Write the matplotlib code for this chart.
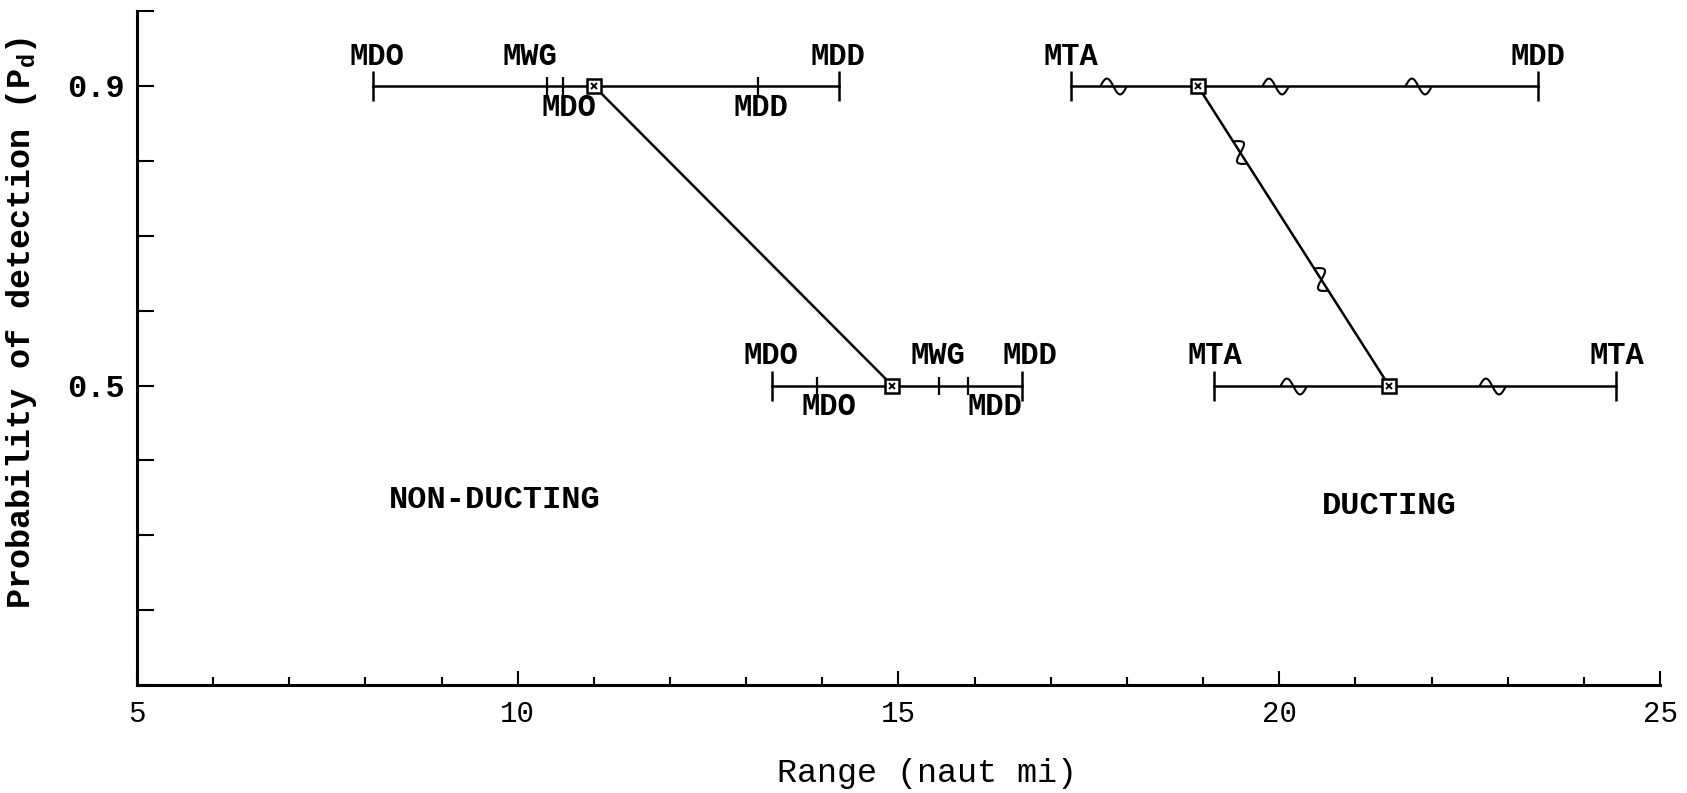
import numpy as np
import matplotlib
matplotlib.use("Agg")
import matplotlib.pyplot as plt
from matplotlib.path import Path
from matplotlib.markers import MarkerStyle
from matplotlib.transforms import Affine2D

plt.rcParams['font.family'] = ['Liberation Mono', 'DejaVu Sans Mono']
plt.rcParams['mathtext.fontset'] = 'custom'
plt.rcParams['mathtext.rm'] = 'Liberation Mono:bold'
plt.rcParams['mathtext.it'] = 'Liberation Mono:bold'

# range bars: (Pd level, left end, right end)
nonduct_bars = [(0.9, 8.1, 14.22), (0.5, 13.34, 16.62)]
duct_bars = [(0.9, 17.26, 23.40), (0.5, 19.14, 24.42)]

# intermediate ticks on the non-ducting bars
nonduct_ticks_09 = [10.38, 10.6, 13.16]
nonduct_ticks_05 = [13.93, 15.53, 15.91]

# median ranges (square markers) joined by a line
nonduct_pd = [0.9, 0.5]
nonduct_range = [11.0, 14.92]
duct_pd = [0.9, 0.5]
duct_range = [18.93, 21.44]

# wiggle positions on ducting bars and on the ducting curve
duct_wiggle_09 = [17.82, 19.95, 21.82]
duct_wiggle_05 = [20.18, 22.79]
duct_curve_wiggle_x = [19.48, 20.55]

# labels: (text, x, Pd, above?)
bar_labels = [
    ("MDO", 8.15, 0.9, True), ("MWG", 10.16, 0.9, True), ("MDD", 14.20, 0.9, True),
    ("MDO", 10.67, 0.9, False), ("MDD", 13.19, 0.9, False),
    ("MDO", 13.32, 0.5, True), ("MWG", 15.52, 0.5, True), ("MDD", 16.73, 0.5, True),
    ("MDO", 14.08, 0.5, False), ("MDD", 16.27, 0.5, False),
    ("MTA", 17.26, 0.9, True), ("MDD", 23.40, 0.9, True),
    ("MTA", 19.16, 0.5, True), ("MTA", 24.44, 0.5, True),
]

x_major = [5, 10, 15, 20, 25]
x_minor = list(range(5, 26))
y_ticks = [0.1, 0.2, 0.3, 0.4, 0.5, 0.6, 0.7, 0.8, 0.9, 1.0]
y_ticklabels = ["", "", "", "", "0.5", "", "", "", "0.9", ""]

fig = plt.figure(figsize=(16.87, 7.93), dpi=100)
ax = fig.add_axes([0.0812, 0.136, 0.9028, 0.85])
ax.set_xlim(5, 25)
ax.set_ylim(0.1, 1.0)

lw = 1.8
k = 'black'

# small sine-shaped wiggle used as a marker
t = np.linspace(-1, 1, 40)
wiggle = Path(np.column_stack([t, 0.6 * np.sin(np.pi * (t + 1))]))

for level, x0, x1 in nonduct_bars + duct_bars:
    ax.plot([x0, x1], [level, level], color=k, lw=lw)
    ax.plot([x0, x1], [level, level], ls='none', marker='|', ms=22,
            mew=lw, color=k)

ax.plot(nonduct_ticks_09, [0.9] * len(nonduct_ticks_09), ls='none',
        marker='|', ms=13, mew=1.6, color=k)
ax.plot(nonduct_ticks_05, [0.5] * len(nonduct_ticks_05), ls='none',
        marker='|', ms=13, mew=1.6, color=k)

ax.plot(duct_wiggle_09, [0.9] * len(duct_wiggle_09), ls='none',
        marker=MarkerStyle(wiggle), ms=19, mew=1.5, mfc='none', mec=k)
ax.plot(duct_wiggle_05, [0.5] * len(duct_wiggle_05), ls='none',
        marker=MarkerStyle(wiggle), ms=19, mew=1.5, mfc='none', mec=k)

for xs, ys in [(nonduct_range, nonduct_pd), (duct_range, duct_pd)]:
    ax.plot(xs, ys, color=k, lw=lw)
    ax.plot(xs, ys, ls='none', marker='s', ms=10, mfc='white', mec=k, mew=1.8)
    ax.plot(xs, ys, ls='none', marker='x', ms=5, mec=k, mew=1.4)

# wiggles along the ducting curve, turned to the slope of the line
p0 = ax.transData.transform((duct_range[0], duct_pd[0]))
p1 = ax.transData.transform((duct_range[1], duct_pd[1]))
angle = np.arctan2(p1[1] - p0[1], p1[0] - p0[0])
curve_wiggle_y = np.interp(duct_curve_wiggle_x, duct_range, duct_pd)
ax.plot(duct_curve_wiggle_x, curve_wiggle_y, ls='none',
        marker=MarkerStyle(wiggle, transform=Affine2D().rotate(angle)),
        ms=19, mew=1.5, mfc='none', mec=k)

for text, x, level, above in bar_labels:
    ax.annotate(text, (x, level), xytext=(0, 21 if above else -15.5),
                textcoords='offset points', ha='center', va='center',
                fontsize=22, fontweight='bold')

ax.text(9.70, 0.347, "NON-DUCTING", ha='center', va='center', fontsize=23,
        fontweight='bold')
ax.text(21.44, 0.339, "DUCTING", ha='center', va='center', fontsize=23,
        fontweight='bold')

ax.spines['top'].set_visible(False)
ax.spines['right'].set_visible(False)
ax.spines['left'].set_linewidth(2.2)
ax.spines['bottom'].set_linewidth(2.2)

ax.set_xticks(x_major)
ax.set_xticks(x_minor, minor=True)
ax.set_xticklabels([str(v) for v in x_major], fontsize=21)
ax.tick_params(axis='x', which='major', direction='in', length=10, width=1.5, pad=11)
ax.tick_params(axis='x', which='minor', direction='in', length=6, width=1.5)

ax.set_yticks(y_ticks)
ax.set_yticklabels(y_ticklabels, fontsize=23, fontweight='bold')
ax.tick_params(axis='y', which='major', direction='in', length=12, width=1.5, pad=9)

ax.set_xlabel("Range (naut mi)", fontsize=24, va='center')
ax.xaxis.set_label_coords(0.519, -0.131)
ax.set_ylabel(r"Probability of detection (P$_\mathrm{d}$)", fontsize=24,
              fontweight='bold', va='center')
ax.yaxis.set_label_coords(-0.0758, 0.537)

plt.savefig("out.png", dpi=100)
